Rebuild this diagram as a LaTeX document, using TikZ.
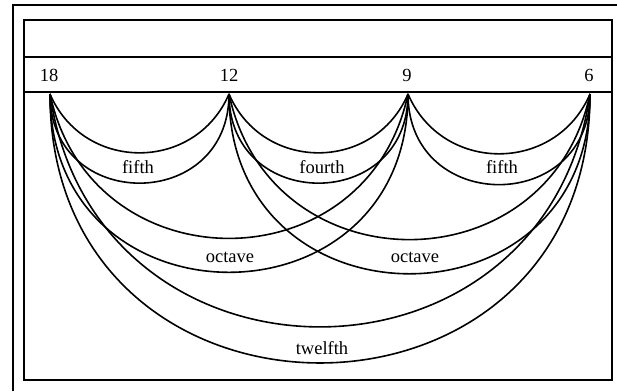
\documentclass[tikz,border=0pt]{standalone}
\usepackage{fontspec}
\setmainfont{Liberation Serif}
\begin{document}
\begin{tikzpicture}[x=1pt,y=1pt,
  frameline/.style={line width=2pt},
  bandline/.style={line width=2.8pt},
  arcline/.style={line width=1.6pt},
  semiarc/.style={out=-90,in=-90,looseness=1.703},
  upfifth/.style={out=-66.8,in=-113.2,looseness=1.223},
  upoct/.style={out=-78,in=-102,looseness=1.41},
  uptwelve/.style={out=-81.8,in=-98.2,looseness=1.49},
  lbl/.style={inner sep=0pt,font=\fontsize{18.5}{22}\selectfont},
  num/.style={inner sep=0pt,font=\fontsize{18.5}{22}\selectfont}]
\useasboundingbox (0,0) rectangle (617,391);
% outer frame (cropped)
\draw[frameline] (13,0) -- (13,386) -- (617,386);
% inner box
\draw[frameline] (24,11) rectangle (612,371);
\draw[frameline] (24,334) -- (612,334);
\draw[bandline] (24,299) -- (612,299);
% points
\coordinate (p18) at (50,297);
\coordinate (p12) at (229,297);
\coordinate (p9) at (408,297);
\coordinate (p6) at (590,297);
% number labels
\node[num] (n18) at (49,316) {18};
\node[num] (n12) at (229,316) {12};
\node[num] (n9) at (407,316) {9};
\node[num] (n6) at (589,316) {6};
% fifth 18-12
\draw[arcline] (p18) to[upfifth] (p12);
\draw[arcline] (p18) to[semiarc] (p12);
% fourth 12-9
\draw[arcline] (p12) to[upfifth] (p9);
\draw[arcline] (p12) to[semiarc] (p9);
% fifth 9-6
\draw[arcline] (p9) to[upfifth] (p6);
\draw[arcline] (p9) to[semiarc] (p6);
% octave 18-9
\draw[arcline] (p18) to[upoct] (p9);
\draw[arcline] (p18) to[semiarc] (p9);
% octave 12-6
\draw[arcline] (p12) to[upoct] (p6);
\draw[arcline] (p12) to[semiarc] (p6);
% twelfth 18-6
\draw[arcline] (p18) to[uptwelve] (p6);
\draw[arcline] (p18) to[semiarc] (p6);
% interval labels
\node[lbl] (l1) at (138,224) {fifth};
\node[lbl] (l2) at (322,224) {fourth};
\node[lbl] (l3) at (502,224) {fifth};
\node[lbl] (l4) at (230,134) {octave};
\node[lbl] (l5) at (415,134) {octave};
\node[lbl] (l6) at (322,43) {twelfth};
\end{tikzpicture}
\end{document}
